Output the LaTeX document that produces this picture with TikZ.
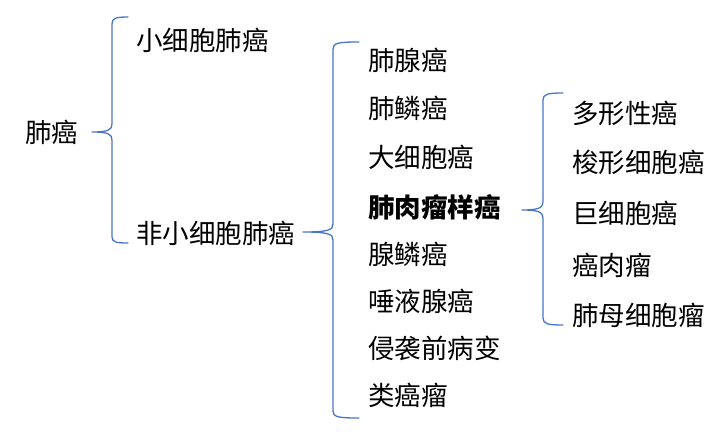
\documentclass[tikz,border=0pt]{standalone}
\usepackage{fontspec}
\setmainfont{Noto Sans CJK SC}
\begin{document}
\begin{tikzpicture}[x=1pt,y=-1pt,
  lbl/.style={anchor=west,inner sep=0pt,font=\fontsize{26.5}{26.5}\selectfont,text=black},
  brace/.style={draw=braceblue,line width=1.3pt,line cap=round,line join=round}]
\definecolor{braceblue}{HTML}{4A76C6}
\useasboundingbox (0,0) rectangle (728,431);
% column 0
\node[lbl] (root) at (25,132) {肺癌};
% column 1
\node[lbl] (sclc) at (136,40) {小细胞肺癌};
\node[lbl] (nsclc) at (136,233) {非小细胞肺癌};
% column 2
\node[lbl] (a1) at (368,60) {肺腺癌};
\node[lbl] (a2) at (368,108) {肺鳞癌};
\node[lbl] (a3) at (368,157) {大细胞癌};
\node[lbl,font=\fontsize{26.5}{26.5}\selectfont\bfseries] (a4) at (368,207) {肺肉瘤样癌};
\node[lbl] (a5) at (368,254) {腺鳞癌};
\node[lbl] (a6) at (368,301) {唾液腺癌};
\node[lbl] (a7) at (368,348) {侵袭前病变};
\node[lbl] (a8) at (368,395) {类癌瘤};
% column 3
\node[lbl] (b1) at (572,113) {多形性癌};
\node[lbl] (b2) at (572,162) {梭形细胞癌};
\node[lbl] (b3) at (572,213) {巨细胞癌};
\node[lbl] (b4) at (572,265) {癌肉瘤};
\node[lbl] (b5) at (572,315) {肺母细胞瘤};
% brace coordinates
\coordinate (t1) at (92,132);
\coordinate (t2) at (303,232);
\coordinate (t3) at (522,210);
% brace 1
\draw[brace] (128,17) .. controls (116,17) and (112,18) .. (112,24)
  -- (112,124) .. controls (112,130) and (108,132) .. (t1)
  (t1) .. controls (108,132) and (112,134) .. (112,140)
  -- (112,237) .. controls (112,242) and (116,243) .. (128,243);
% brace 2
\draw[brace] (359,42) .. controls (338,42) and (333,43) .. (333,49)
  -- (333,224) .. controls (333,230) and (328,232) .. (t2)
  (t2) .. controls (328,232) and (333,234) .. (333,240)
  -- (333,411) .. controls (333,417) and (338,418) .. (359,418);
% brace 3
\draw[brace] (563,93) .. controls (548,93) and (543,94) .. (543,100)
  -- (543,202) .. controls (543,208) and (538,210) .. (t3)
  (t3) .. controls (538,210) and (543,212) .. (543,218)
  -- (543,318) .. controls (543,324) and (548,325) .. (563,325);
\end{tikzpicture}
\end{document}
